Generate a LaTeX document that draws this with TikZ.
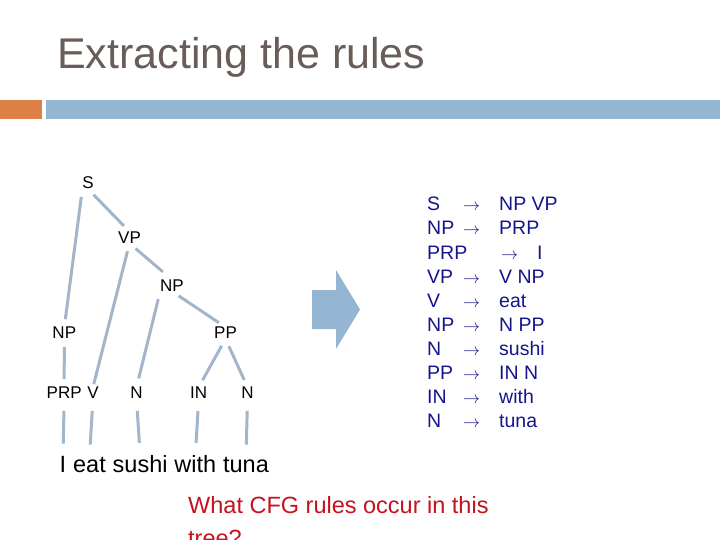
\documentclass[tikz,border=0pt]{standalone}
\usepackage{fontspec}
\usepackage{graphicx}
\setmainfont{Liberation Sans}
\usetikzlibrary{positioning}
\definecolor{TitleGrey}{RGB}{104,93,88}
\definecolor{BarOrange}{RGB}{221,128,71}
\definecolor{BarBlue}{RGB}{148,182,210}
\definecolor{BranchBlue}{RGB}{163,182,201}
\definecolor{RuleNavy}{RGB}{20,20,140}
\definecolor{AskRed}{RGB}{196,18,30}
\newcommand\rulearrow{\scalebox{1.7}{$\rightarrow$}}
\tikzset{
  cat node/.style={
    font=\fontsize{17}{20}\selectfont,
    inner sep=0pt,
    outer sep=0pt,
  },
  word node/.style={
    font=\fontsize{23.5}{28}\selectfont,
    inner sep=0pt,
    anchor=base west,
  },
  branch/.style={
    draw=BranchBlue,
    line width=3pt,
    shorten <=8pt,
    shorten >=8pt,
  },
  leaf/.style={
    branch,
    shorten <=12pt,
    shorten >=12pt,
  },
  rule node/.style={
    RuleNavy,
    font=\fontsize{19.5}{24}\selectfont,
    inner sep=0pt,
    anchor=base west,
  },
  rule arrow/.style={
    rule node,
    font=\normalsize,
  },
}

\begin{document}
\begin{tikzpicture}[x=1pt,y=-1pt]
  \useasboundingbox (0,0) rectangle (720,540);
  \clip (0,0) rectangle (720,540);
  % title and bar
  \node[TitleGrey, font=\fontsize{43}{50}\selectfont, inner sep=0pt, anchor=base west]
    (title) at (57,69) {Extracting the rules};
  \fill[BarOrange] (0,100) rectangle (42,119);
  \fill[BarBlue] (46,100) rectangle (720,119);

  % parse tree
  \node[cat node] (S) at (88,183) {S};
  \node[cat node] (VP) at (129.5,237.5) {VP};
  \node[cat node] (NPobj) at (172,285.5) {NP};
  \node[cat node] (NPsubj) at (64.3,333) {NP};
  \node[cat node] (PP) at (225.5,333) {PP};
  \node[cat node] (PRP) at (64.2,393) {PRP};
  \node[cat node] (V) at (93,393) {V};
  \node[cat node] (Nsushi) at (136.5,393) {N};
  \node[cat node] (IN) at (198.7,393) {IN};
  \node[cat node] (Ntuna) at (247.5,393) {N};

  \node[word node] (wI) at (59.5,472) {I};
  \node[word node, base right=6.5pt of wI] (weat) {eat};
  \node[word node, base right=6.5pt of weat] (wsushi) {sushi};
  \node[word node, base right=6.5pt of wsushi] (wwith) {with};
  \node[word node, base right=6.5pt of wwith] (wtuna) {tuna};

  \draw[branch] (S.south west) -- (NPsubj.north);
  \draw[branch] (S.south) -- (VP.north);
  \draw[branch, shorten >=3pt] (VP.south) -- (V.north);
  \draw[branch, shorten >=12pt] (VP.south) -- (NPobj.north);
  \draw[branch, shorten >=9pt] (NPobj.south west) -- (Nsushi.north);
  \draw[branch] (NPobj.south) -- (PP.north);
  \draw[branch] (NPsubj.south) -- (PRP.north);
  \draw[branch] (PP.south) -- (IN.north);
  \draw[branch] (PP.south) -- (Ntuna.north);
  \foreach \tag/\word in {PRP/wI, V/weat, Nsushi/wsushi, IN/wwith, Ntuna/wtuna}
    \draw[leaf] (\tag.south) -- (\word.north);

  % block arrow
  \fill[BarBlue] (312,290) -- (336,290) -- (336,270) -- (360,309.5)
    -- (336,349) -- (336,329) -- (312,329) -- cycle;

  % extracted rules
  \foreach \lhs/\rhs/\gap [count=\i] in {S/NP VP/0, NP/PRP/0, PRP/I/38,
      VP/V NP/0, V/eat/0, NP/N PP/0, N/sushi/0, PP/IN N/0, IN/with/0, N/tuna/0} {
    \node[rule node] (lhs\i) at (427,{211+24*(\i-1)}) {\lhs};
    \node[rule arrow] (arr\i) at ({463+\gap},{211+24*(\i-1)}) {\rulearrow};
    \node[rule node] (rhs\i) at ({499+\gap},{211+24*(\i-1)}) {\rhs};
  }

  % question
  \node[AskRed, font=\fontsize{23.5}{28}\selectfont, inner sep=0pt, anchor=base west]
    (ask) at (188,513) {What CFG rules occur in this};
  \node[AskRed, font=\fontsize{23.5}{28}\selectfont, inner sep=0pt, anchor=base west]
    (ask2) at (188,546) {tree?};
\end{tikzpicture}
\end{document}
